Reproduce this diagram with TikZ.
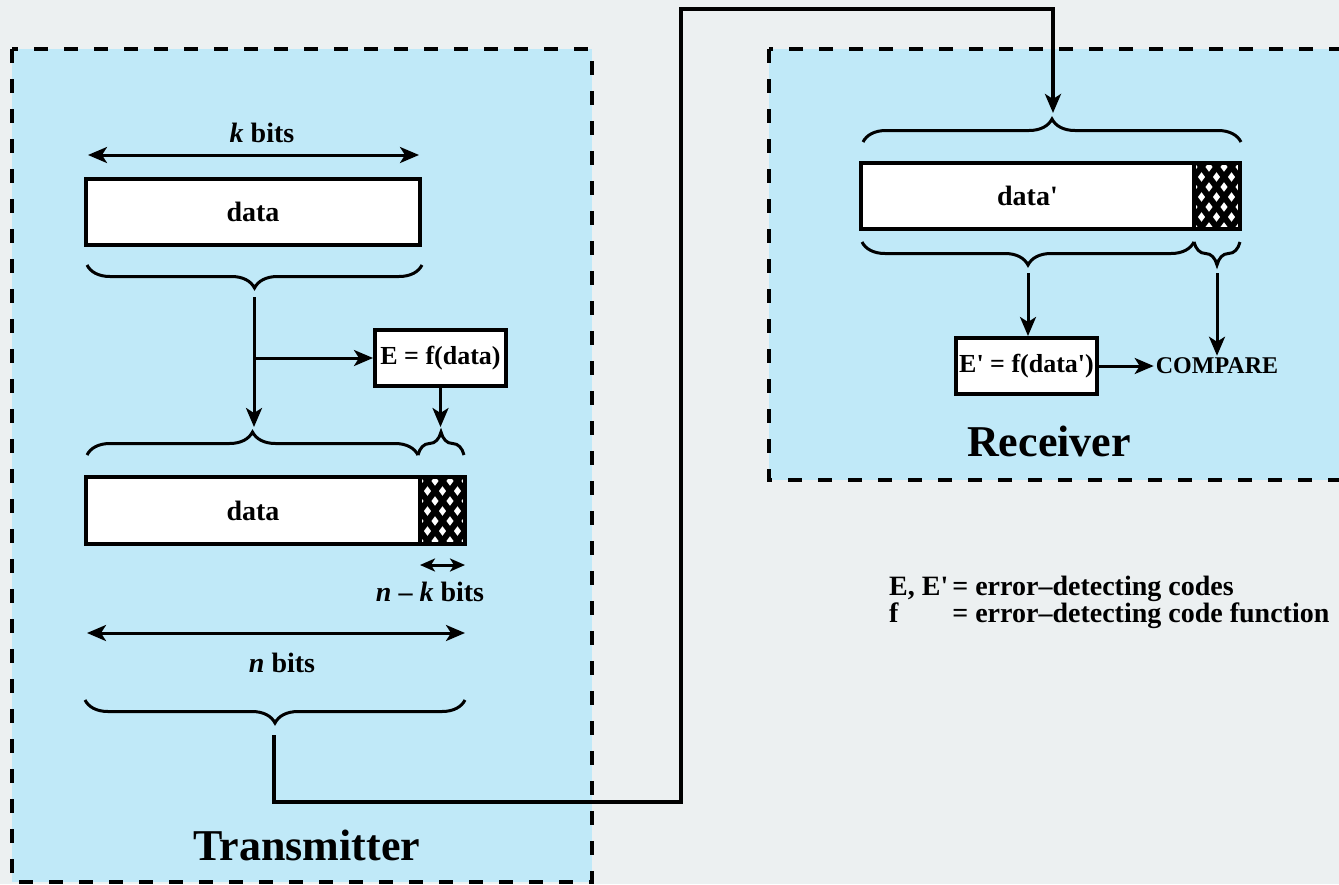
\documentclass[tikz,border=0pt]{standalone}
\usepackage{fontspec}
\setmainfont{Liberation Serif}
\usetikzlibrary{arrows.meta,decorations.pathreplacing,calc}

\definecolor{pagegrey}{RGB}{236,240,241}
\definecolor{panelblue}{RGB}{192,233,248}

\tikzset{
  panel/.style={draw=black,fill=panelblue,line width=3.5pt,dash pattern=on 14pt off 16pt},
  field/.style={draw=black,fill=white,line width=4pt,inner sep=0pt,
    font=\fontsize{28}{32}\selectfont\bfseries},
  fn/.style={field,font=\fontsize{26}{30}\selectfont\bfseries},
  check/.style={field,path picture={
      \foreach \i in {-6,...,9}{
        \draw[line width=6pt] ($(path picture bounding box.north west)+(\i*15,-6)$) -- ++(60,80);
        \draw[line width=6pt] ($(path picture bounding box.north west)+(\i*15,-6)$) -- ++(-60,80);
      }}},
  brace/.style={decorate,decoration={brace,amplitude=23pt},line width=3pt},
  arr/.style={-{Stealth[length=19pt,width=16pt,inset=5pt]},line width=3pt},
  dim/.style={{Stealth[length=19pt,width=16pt,inset=5pt]}-{Stealth[length=19pt,width=16pt,inset=5pt]},line width=3pt},
  smalldim/.style={{Stealth[length=15pt,width=13pt,inset=4pt]}-{Stealth[length=15pt,width=13pt,inset=4pt]},line width=3pt},
  link/.style={-{Stealth[length=19pt,width=16pt,inset=5pt]},line width=4pt},
  lbl/.style={font=\fontsize{28}{32}\selectfont\bfseries},
  title/.style={font=\fontsize{44}{50}\selectfont\bfseries}
}

\begin{document}
\begin{tikzpicture}[x=1pt,y=-1pt]
  \fill[pagegrey] (0,0) rectangle (1339,884);
  \useasboundingbox (0,0) rectangle (1339,884);
  \clip (0,0) rectangle (1339,884);

  % panels
  \draw[panel] (12,49) rectangle (592,882);
  \draw[panel] (769,49) rectangle (1360,480);

  % transmitter
  \coordinate (kL) at (88,155);
  \coordinate (kR) at (419,155);
  \draw[dim] (kL) -- (kR);
  \node[lbl] (kbits) at (262,133) {\textit{k} bits};
  \node[field,minimum width=334pt,minimum height=66pt] (data1) at (253,212) {data};
  \draw[brace] (422,265) -- (87,265);

  \coordinate (d1out) at (254,297);
  \coordinate (d2in) at (254,427);
  \node[fn,minimum width=131pt,minimum height=56pt] (ebox) at (440.5,358) {E = f(data)};
  \coordinate (cin) at (ebox.south |- d2in);
  \draw[arr] (d1out) -- (d2in);
  \draw[arr] (d1out |- ebox.west) -- (ebox.west);
  \draw[arr] (ebox.south) -- (cin);

  \draw[brace] (87,455) -- (418,455);
  \draw[brace] (418,455) -- (464,455);
  \node[field,minimum width=334pt,minimum height=67pt] (data2) at (253,510.5) {data};
  \node[check,minimum width=45pt,minimum height=67pt] (chk1) at (442.5,510.5) {};

  \coordinate (nkL) at (420,565);
  \coordinate (nkR) at (465,565);
  \draw[smalldim] (nkL) -- (nkR);
  \node[lbl] (nkbits) at (430,592) {\textit{n} – \textit{k} bits};

  \coordinate (nL) at (87,633);
  \coordinate (nR) at (465,633);
  \draw[dim] (nL) -- (nR);
  \node[lbl] (nbits) at (282,663) {\textit{n} bits};
  \draw[brace] (465,700) -- (85,700);
  \coordinate (txout) at (274,735);
  \node[title] (tx) at (307,845) {Transmitter};

  % link to receiver
  \coordinate (bendA) at (681,802);
  \coordinate (bendB) at (681,9);
  \coordinate (rxin) at (1053,113);
  \draw[link] (txout) |- (bendA) -- (bendB) -| (rxin);

  % receiver
  \draw[brace] (863,142) -- (1241,142);
  \node[field,minimum width=333pt,minimum height=66pt] (data3) at (1027.5,196) {data\textquotesingle};
  \node[check,minimum width=46pt,minimum height=66pt] (chk2) at (1217,196) {};
  \draw[brace] (1194,242) -- (862,242);
  \draw[brace] (1240,242) -- (1194,242);

  \node[fn,minimum width=141pt,minimum height=56pt] (epbox) at (1026.5,366) {E\textquotesingle{} = f(data\textquotesingle)};
  \node[font=\fontsize{24}{28}\selectfont\bfseries,inner sep=2pt] (cmp) at (1217,366) {COMPARE};
  \coordinate (rb1) at (1028,273);
  \coordinate (rb2) at (1217,273);
  \draw[arr] (rb1) -- (rb1 |- epbox.north);
  \draw[arr] (rb2) -- (rb2 |- cmp.north);
  \draw[arr] (epbox.east) -- (cmp.west);
  \node[title] (rx) at (1049,441) {Receiver};

  % legend
  \node[lbl,anchor=west,inner sep=0pt] (key) at (889,603) {\fontsize{28}{26}\selectfont
    \begin{tabular}{@{}l@{\hspace{4pt}}l@{}}
      E, E\textquotesingle & = error–detecting codes\\
      f & = error–detecting code function
    \end{tabular}};
\end{tikzpicture}
\end{document}
